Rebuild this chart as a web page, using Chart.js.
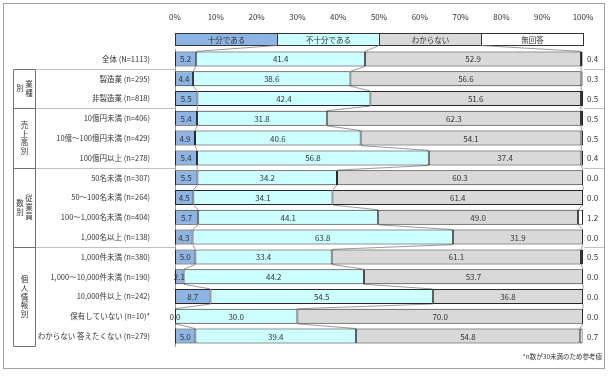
<!DOCTYPE html>
<html>
<head>
<meta charset="utf-8">
<script src="https://cdn.jsdelivr.net/npm/chart.js@4/dist/chart.umd.min.js"></script>
<style>
  html, body { margin: 0; padding: 0; background: #fff; }
  #wrap { width: 615px; height: 389px; }
</style>
</head>
<body>
<div id="wrap"><canvas id="chart" width="615" height="389"></canvas></div>
<script>
// 回答カテゴリ
const seriesNames = ['十分である', '不十分である', 'わからない', '無回答'];
const seriesColors = ['#8db4e2', '#ccffff', '#d9d9d9', '#ffffff'];

const categories = [
    '全体 (N=1113)',
    '製造業 (n=295)',
    '非製造業 (n=818)',
    '10億円未満 (n=406)',
    '10億～100億円未満 (n=429)',
    '100億円以上 (n=278)',
    '50名未満 (n=307)',
    '50～100名未満 (n=264)',
    '100～1,000名未満 (n=404)',
    '1,000名以上 (n=138)',
    '1,000件未満 (n=380)',
    '1,000～10,000件未満 (n=190)',
    '10,000件以上 (n=242)',
    '保有していない (n=10)*',
    'わからない 答えたくない (n=279)'
];

const juubun    = [5.2, 4.4, 5.5, 5.4, 4.9, 5.4, 5.5, 4.5, 5.7, 4.3, 5.0, 2.1, 8.7, 0.0, 5.0];
const fujuubun  = [41.4, 38.6, 42.4, 31.8, 40.6, 56.8, 34.2, 34.1, 44.1, 63.8, 33.4, 44.2, 54.5, 30.0, 39.4];
const wakaranai = [52.9, 56.6, 51.6, 62.3, 54.1, 37.4, 60.3, 61.4, 49.0, 31.9, 61.1, 53.7, 36.8, 70.0, 54.8];
const mukaitou  = [0.4, 0.3, 0.5, 0.5, 0.5, 0.4, 0.0, 0.0, 1.2, 0.0, 0.5, 0.0, 0.0, 0.0, 0.7];

const xTicks = [0, 10, 20, 30, 40, 50, 60, 70, 80, 90, 100];

// 属性グループ (縦書き、右の列から)
const groups = [
    {cols: ['業種', '別'], from: 1, to: 2},
    {cols: ['売上高別'], from: 3, to: 5},
    {cols: ['従業員', '数別'], from: 6, to: 9},
    {cols: ['個人情報別'], from: 10, to: 14}
];

const note = '*n数が30未満のため参考値';

const FONT = "'Noto Sans CJK JP', 'Noto Sans', sans-serif";
const TEXT = '#333333';
const allSeries = [juubun, fujuubun, wakaranai, mukaitou];

function cumulative(i) {
    let sum = 0;
    return allSeries.map(s => (sum += s[i]));
}

const decorPlugin = {
    id: 'decor',
    beforeDraw(chart) {
        const ctx = chart.ctx;
        ctx.save();
        ctx.fillStyle = '#fff';
        ctx.fillRect(0, 0, chart.width, chart.height);
        ctx.restore();
    },
    beforeDatasetsDraw(chart) {
        const ctx = chart.ctx;
        const x = chart.scales.x;
        const y = chart.scales.y;
        const area = chart.chartArea;
        const step = y.getPixelForValue(1) - y.getPixelForValue(0);
        const metas = chart.getDatasetMeta(0).data;

        // 凡例 (積み上げ棒の形)
        const legY = y.getPixelForValue(0) - step;
        const legTop = Math.round(legY - 6) + 0.5;
        const legBottom = legTop + 12;
        ctx.save();
        ctx.lineWidth = 1;
        seriesNames.forEach((name, k) => {
            const x0 = Math.round(x.getPixelForValue(k * 25)) + 0.5;
            const x1 = Math.round(x.getPixelForValue((k + 1) * 25)) + 0.5;
            ctx.fillStyle = seriesColors[k];
            ctx.fillRect(x0, legTop, x1 - x0, legBottom - legTop);
            ctx.strokeStyle = '#333';
            ctx.strokeRect(x0, legTop, x1 - x0, legBottom - legTop);
            ctx.fillStyle = TEXT;
            ctx.font = '7.5px ' + FONT;
            ctx.textAlign = 'center';
            ctx.textBaseline = 'middle';
            ctx.fillText(name, (x0 + x1) / 2, (legTop + legBottom) / 2 + 0.5);
        });

        // 区分線 (棒の間をつなぐ線)
        ctx.strokeStyle = '#808080';
        ctx.lineWidth = 0.8;
        let prevCum = [25, 50, 75, 100];
        let prevBottom = legBottom;
        categories.forEach((c, i) => {
            const el = metas[i];
            const top = el.y - el.height / 2;
            const cum = cumulative(i);
            for (let k = 0; k < 3; k++) {
                ctx.beginPath();
                ctx.moveTo(x.getPixelForValue(prevCum[k]), prevBottom);
                ctx.lineTo(x.getPixelForValue(cum[k]), top);
                ctx.stroke();
            }
            prevCum = cum;
            prevBottom = el.y + el.height / 2;
        });

        // 左の属性枠
        const bound = i => (y.getPixelForValue(i) + y.getPixelForValue(i + 1)) / 2;
        const boxL = 13.5, boxR = 35.5, frameR = 604.5;
        const boxTop = Math.round(bound(groups[0].from - 1)) + 0.5;
        const boxBottom = Math.round(y.getPixelForValue(groups[groups.length - 1].to) + step / 2) + 0.5;
        ctx.lineWidth = 1;
        groups.forEach(g => {
            const gy = Math.round(bound(g.from - 1)) + 0.5;
            ctx.strokeStyle = '#c0c0c0';
            ctx.beginPath();
            ctx.moveTo(boxR, gy); ctx.lineTo(area.left, gy);
            ctx.moveTo(area.right + 1, gy); ctx.lineTo(frameR, gy);
            ctx.stroke();
            ctx.strokeStyle = '#707070';
            ctx.beginPath();
            ctx.moveTo(boxL, gy); ctx.lineTo(boxR, gy);
            ctx.stroke();

            const gTop = bound(g.from - 1);
            const gBottom = g.to === categories.length - 1 ? boxBottom : bound(g.to);
            const mid = (gTop + gBottom) / 2;
            const n = g.cols.length;
            ctx.fillStyle = TEXT;
            ctx.font = '7.5px ' + FONT;
            ctx.textAlign = 'center';
            ctx.textBaseline = 'middle';
            g.cols.forEach((col, ci) => {
                const cx = n === 1 ? (boxL + boxR) / 2 : (boxL + boxR) / 2 + 4.5 - ci * 9;
                const chars = Array.from(col);
                const lh = 8.8;
                chars.forEach((ch, j) => {
                    ctx.fillText(ch, cx, mid + (j - (chars.length - 1) / 2) * lh);
                });
            });
        });
        ctx.strokeStyle = '#707070';
        ctx.beginPath();
        ctx.moveTo(boxL, boxTop); ctx.lineTo(boxL, boxBottom);
        ctx.moveTo(boxR, boxTop); ctx.lineTo(boxR, boxBottom);
        ctx.moveTo(boxL, boxBottom); ctx.lineTo(boxR, boxBottom);
        ctx.stroke();
        ctx.restore();
    },
    afterDatasetsDraw(chart) {
        const ctx = chart.ctx;
        const area = chart.chartArea;
        ctx.save();
        ctx.fillStyle = TEXT;
        ctx.font = '8px ' + FONT;
        ctx.textBaseline = 'middle';
        chart.data.datasets.forEach((ds, d) => {
            const meta = chart.getDatasetMeta(d);
            meta.data.forEach((el, i) => {
                const v = ds.data[i].toFixed(1);
                if (d < 3) {
                    ctx.textAlign = 'center';
                    ctx.fillText(v, (el.x + el.base) / 2, el.y + 0.5);
                } else {
                    ctx.textAlign = 'left';
                    ctx.fillText(v, area.right + 4, el.y + 0.5);
                }
            });
        });

        // 注記と外枠
        ctx.font = '6.5px ' + FONT;
        ctx.textAlign = 'right';
        ctx.fillText(note, 602, 357);
        ctx.strokeStyle = '#a0a0a0';
        ctx.lineWidth = 1;
        ctx.strokeRect(3.5, 3.5, 601, 365);
        ctx.restore();
    }
};

new Chart(document.getElementById('chart'), {
    type: 'bar',
    data: {
        labels: categories,
        datasets: allSeries.map((values, k) => ({
            label: seriesNames[k],
            data: values,
            backgroundColor: seriesColors[k],
            borderColor: '#262626',
            borderWidth: 1,
            borderSkipped: false,
            barPercentage: 0.76,
            categoryPercentage: 1
        }))
    },
    options: {
        indexAxis: 'y',
        responsive: false,
        animation: false,
        devicePixelRatio: 1,
        layout: {
            padding: {left: 0, right: 32, top: 0, bottom: 43}
        },
        scales: {
            x: {
                type: 'linear',
                position: 'top',
                stacked: true,
                min: 0,
                max: 100,
                afterBuildTicks(scale) {
                    scale.ticks = xTicks.map(v => ({value: v}));
                },
                afterFit(scale) {
                    scale.height = 49;
                },
                grid: {display: false, drawTicks: true, tickLength: 24},
                border: {display: false},
                ticks: {
                    padding: 3,
                    color: TEXT,
                    font: {family: FONT, size: 8},
                    callback: v => v + '%'
                }
            },
            y: {
                stacked: true,
                afterFit(scale) {
                    scale.width = 175;
                },
                grid: {display: false, drawTicks: false},
                border: {display: true, color: '#999999'},
                ticks: {
                    padding: 25,
                    color: TEXT,
                    font: {family: FONT, size: 7.5}
                }
            }
        },
        plugins: {
            legend: {display: false},
            tooltip: {enabled: false}
        }
    },
    plugins: [decorPlugin]
});
</script>
</body>
</html>
